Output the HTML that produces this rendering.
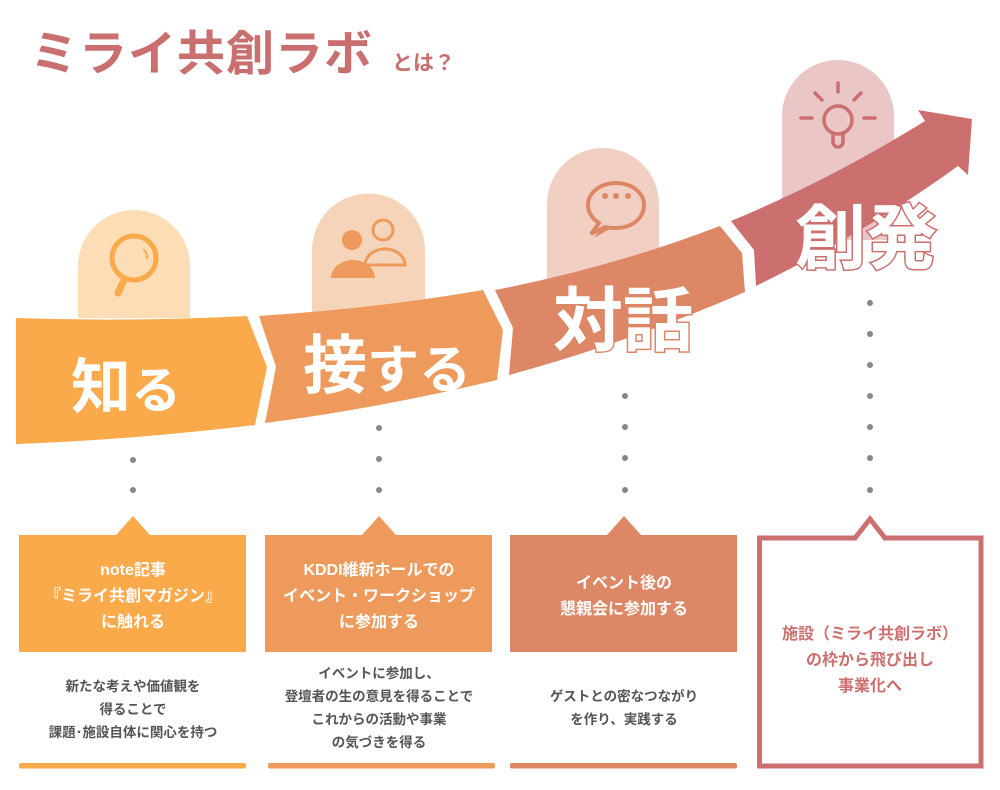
<!DOCTYPE html>
<html><head><meta charset="utf-8"><style>
html,body{margin:0;padding:0;background:#fff;}
svg{display:block;}
text{font-family:"Liberation Sans","Noto Sans CJK JP",sans-serif;font-weight:bold;}
</style></head><body>
<svg width="1000" height="790" viewBox="0 0 1000 790" xmlns="http://www.w3.org/2000/svg">
<!-- title -->
<text x="30" y="70" font-size="48" fill="#C96F6F" font-weight="900" letter-spacing="1">ミライ共創ラボ</text>
<text x="392" y="70" font-size="21" fill="#C96F6F">とは？</text>

<!-- domes -->
<path d="M78,318 V266 a56,56 0 0 1 112,0 V318 Z" fill="#FDDDB5"/>
<path d="M312,318 V250 a56,56 0 0 1 113,0 V318 Z" fill="#F6D4BA"/>
<path d="M547,300 V204 a56,56 0 0 1 112,0 V300 Z" fill="#F1D0C3"/>
<path d="M782,240 V116 a56,56 0 0 1 112,0 V240 Z" fill="#EAC6C6"/>

<!-- icons -->
<g fill="none" stroke="#FBAA4B" stroke-width="5" stroke-linecap="round">
<circle cx="134" cy="258" r="22"/>
<line x1="124" y1="280" x2="118" y2="293" stroke-width="7"/>
<path d="M144,250 a10,10 0 0 1 3,8" stroke-width="2"/>
</g>
<g>
<circle cx="352" cy="240" r="10" fill="#EE9A5C"/>
<path d="M331,278 a22,18 0 0 1 44,0 Z" fill="#EE9A5C"/>
<circle cx="383" cy="230" r="10" fill="none" stroke="#EE9A5C" stroke-width="3"/>
<path d="M365,265 a20,16 0 0 1 40,0 Z" fill="none" stroke="#EE9A5C" stroke-width="3"/>
</g>
<g fill="#DD8767">
<ellipse cx="616" cy="206" rx="20" ry="16"/>
<path d="M604,224 l-10,14 l14,-8 Z"/>
<path d="M616,183 c-16,0 -28,10 -28,22 c0,8 5,14 11,18 l-8,11 l14,-7 c3,1 7,1 11,1 c16,0 28,-10 28,-23 c0,-12 -12,-22 -28,-22 Z" fill="#F1D0C3" stroke="#DD8767" stroke-width="4"/>
<circle cx="605" cy="196" r="3"/><circle cx="616" cy="196" r="3"/><circle cx="628" cy="196" r="3"/>
</g>
<g fill="none" stroke="#CB6F6F" stroke-width="3.5" stroke-linecap="round">
<circle cx="838" cy="120" r="14"/>
<path d="M833,133 v9 a5,5 0 0 0 10,0 v-9"/>
<line x1="838" y1="83" x2="838" y2="92"/>
<line x1="812" y1="118" x2="801" y2="118"/>
<line x1="864" y1="118" x2="875" y2="118"/>
<line x1="815" y1="93" x2="822" y2="100"/>
<line x1="861" y1="93" x2="854" y2="100"/>
</g>

<!-- arrow segments -->
<path d="M16,318 Q130,322 247,316 L267,367 L255,425 Q130,440 16,444 Z" fill="#FBAA4B"/>
<path d="M259,316 Q380,308 483,290 L503,330 L497,380 Q380,408 265,423 L276,367 Z" fill="#EE9A5C"/>
<path d="M495,290 Q610,268 720,226 L742,253 L745,292 Q630,342 509,375 L513,328 Z" fill="#DD8767"/>
<path d="M731,221 Q830,180 925,121 L918,110 L972,119 L968,175 L958,166 Q870,230 756,286 L754,250 Z" fill="#CB6F6F"/>

<!-- big labels -->
<g fill="#fff" font-weight="900">
<text x="71" y="408" font-size="60">知<tspan font-size="50">る</tspan></text>
<text x="303" y="388" font-size="64">接<tspan font-size="52">する</tspan></text>
<text x="553" y="345" font-size="70" stroke="#DD8767" stroke-width="3" paint-order="stroke">対話</text>
<text x="795" y="263" font-size="71" stroke="#CB6F6F" stroke-width="3" paint-order="stroke">創発</text>
</g>

<!-- dots -->
<g fill="#888">
<circle cx="133" cy="460" r="3"/><circle cx="133" cy="490" r="3"/>
<circle cx="379" cy="428" r="3"/><circle cx="379" cy="459" r="3"/><circle cx="379" cy="490" r="3"/>
<circle cx="625" cy="396" r="3"/><circle cx="625" cy="427" r="3"/><circle cx="625" cy="458" r="3"/><circle cx="625" cy="490" r="3"/>
<circle cx="870" cy="303" r="3"/><circle cx="870" cy="334" r="3"/><circle cx="870" cy="365" r="3"/><circle cx="870" cy="396" r="3"/><circle cx="870" cy="427" r="3"/><circle cx="870" cy="458" r="3"/><circle cx="870" cy="490" r="3"/>
</g>

<!-- boxes -->
<path d="M19,535 H116 L133,516 L150,535 H246 V652 H19 Z" fill="#FBAA4B"/>
<path d="M265,535 H362 L379,516 L396,535 H492 V652 H265 Z" fill="#EE9A5C"/>
<path d="M510,535 H607 L624,516 L641,535 H737 V652 H510 Z" fill="#DD8767"/>
<path d="M759.5,538 H855 L870,519 L885,538 H981 V766 H759.5 Z" fill="#fff" stroke="#CB6F6F" stroke-width="5"/>

<g font-size="16" fill="#fff" text-anchor="middle">
<text x="133" y="575">note記事</text>
<text x="133" y="601">『ミライ共創マガジン』</text>
<text x="133" y="627">に触れる</text>
<text x="379" y="575">KDDI維新ホールでの</text>
<text x="379" y="601">イベント・ワークショップ</text>
<text x="379" y="627">に参加する</text>
<text x="624" y="588">イベント後の</text>
<text x="624" y="614">懇親会に参加する</text>
</g>
<g font-size="16" fill="#CB6F6F" text-anchor="middle">
<text x="870" y="639">施設（ミライ共創ラボ）</text>
<text x="870" y="665">の枠から飛び出し</text>
<text x="870" y="691">事業化へ</text>
</g>
<g font-size="13.5" fill="#555" text-anchor="middle">
<text x="133" y="691">新たな考えや価値観を</text>
<text x="133" y="714">得ることで</text>
<text x="133" y="737">課題･施設自体に関心を持つ</text>
<text x="379" y="678">イベントに参加し、</text>
<text x="379" y="701">登壇者の生の意見を得ることで</text>
<text x="379" y="724">これからの活動や事業</text>
<text x="379" y="747">の気づきを得る</text>
<text x="624" y="701">ゲストとの密なつながり</text>
<text x="624" y="724">を作り、実践する</text>
</g>

<rect x="19" y="763" width="227" height="5.5" rx="2" fill="#FBAA4B"/>
<rect x="268" y="763" width="227" height="5.5" rx="2" fill="#EE9A5C"/>
<rect x="510" y="763" width="227" height="5.5" rx="2" fill="#DD8767"/>
</svg>
</body></html>
